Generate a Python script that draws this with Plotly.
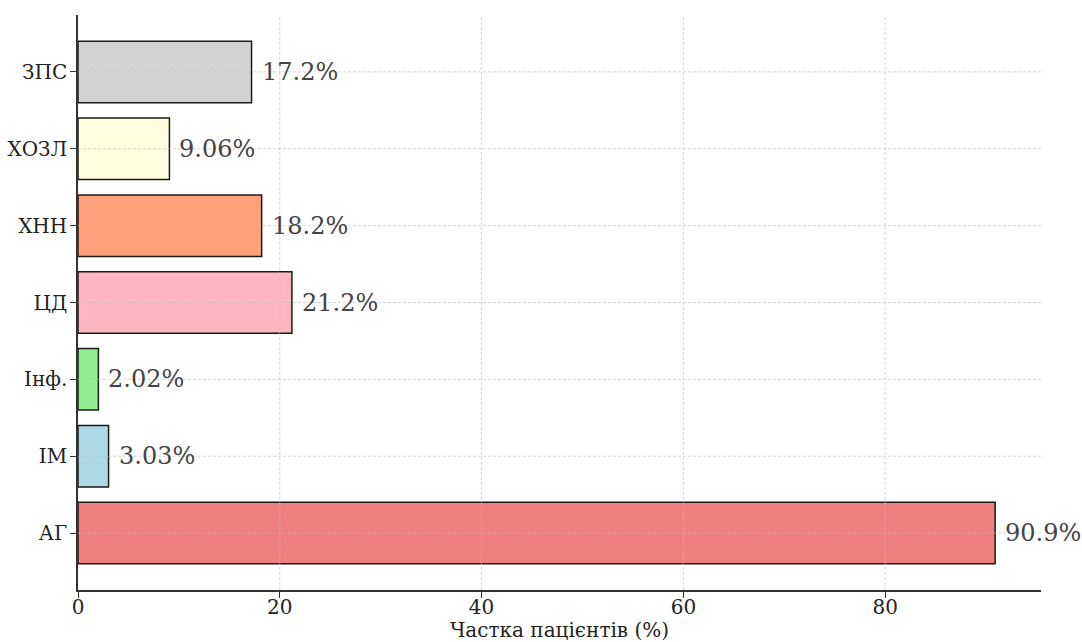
import plotly.graph_objects as go

# Categories listed bottom-to-top, with their shares of patients (%)
categories = ["АГ", "ІМ", "Інф.", "ЦД", "ХНН", "ХОЗЛ", "ЗПС"]
shares = [90.9, 3.03, 2.02, 21.2, 18.2, 9.06, 17.2]
value_labels = ["90.9%", "3.03%", "2.02%", "21.2%", "18.2%", "9.06%", "17.2%"]
bar_colors = ["#F08080", "#ADD8E6", "#90EE90", "#FFB6C1", "#FFA07A", "#FFFFE0", "#D3D3D3"]
x_ticks = [0, 20, 40, 60, 80]

FONT = "DejaVu Serif"
x_max = max(shares) * 1.05
n = len(categories)

fig = go.Figure()
fig.add_trace(go.Bar(
    x=shares,
    y=list(range(n)),
    orientation="h",
    width=0.8,
    marker=dict(color=bar_colors, line=dict(color="#1a1a1a", width=1.5)),
    hoverinfo="skip",
    showlegend=False,
))

# Value labels just past the end of each bar
for i, (v, lab) in enumerate(zip(shares, value_labels)):
    fig.add_annotation(
        x=v, y=i, xref="x", yref="y", text=lab, showarrow=False,
        xanchor="left", yanchor="middle", xshift=8,
        font=dict(family=FONT, size=24, color="#444444"),
    )

# Dashed grid drawn on top of the bars
grid_style = dict(color="rgba(190,190,190,0.8)", width=0.8, dash="3px,2px")
for t in x_ticks[1:]:
    fig.add_shape(type="line", xref="x", yref="paper", x0=t, x1=t, y0=0, y1=1,
                  line=grid_style, layer="above")
for i in range(n):
    fig.add_shape(type="line", xref="paper", yref="y", x0=0, x1=1, y0=i, y1=i,
                  line=grid_style, layer="above")

axis_common = dict(
    showgrid=False, zeroline=False, automargin=False,
    showline=True, linecolor="#333333", linewidth=1.5,
    ticks="outside", ticklen=6, tickwidth=1.2, tickcolor="#333333",
    tickfont=dict(family=FONT, size=20, color="#222222"),
)

fig.update_layout(
    width=1082, height=642,
    margin=dict(l=78, r=41, t=15, b=52),
    paper_bgcolor="white", plot_bgcolor="white",
    font=dict(family=FONT, size=20, color="#222222"),
    xaxis=dict(
        range=[0, x_max], tickvals=x_ticks, ticklabelstandoff=-8,
        title=dict(text="Частка пацієнтів (%)", standoff=8,
                   font=dict(family=FONT, size=20, color="#222222")),
        **axis_common,
    ),
    yaxis=dict(
        range=[-0.74, n - 1 + 0.74], tickvals=list(range(n)), ticktext=categories,
        ticklabelstandoff=-1,
        **axis_common,
    ),
)

fig.write_html("out.html")
